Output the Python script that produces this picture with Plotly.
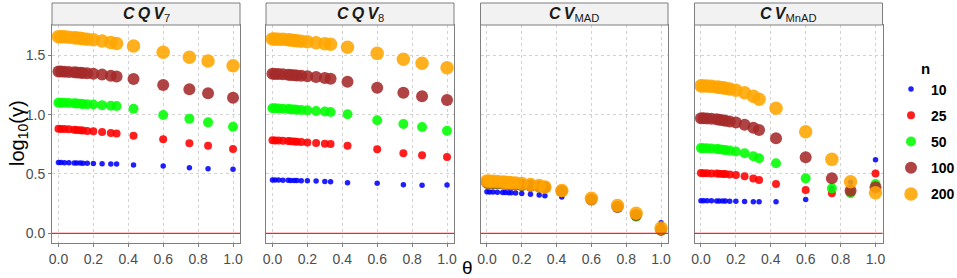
import plotly.graph_objects as go

# ---------------- data ----------------
theta = [0, 0.015, 0.035, 0.06, 0.09, 0.105, 0.125, 0.14, 0.165, 0.2, 0.25, 0.3, 0.333,
         0.43, 0.6, 0.75, 0.857, 1.0]
n_levels = ["10", "25", "50", "100", "200"]
panel_names = ["CQV7", "CQV8", "CVMAD", "CVMnAD"]
panel_titles = ["<b><i>C\u2009Q\u2009V</i></b><sub>7</sub>", "<b><i>C\u2009Q\u2009V</i></b><sub>8</sub>",
                "<b><i>C\u2009V</i></b><sub>MAD</sub>", "<b><i>C\u2009V</i></b><sub>MnAD</sub>"]
y_ticks = [0.0, 0.5, 1.0, 1.5]
x_ticks = [0.0, 0.2, 0.4, 0.6, 0.8, 1.0]

cqv7_n10 = [0.597, 0.596, 0.595, 0.594, 0.593, 0.592, 0.592, 0.591, 0.590, 0.589, 0.587, 0.585, 0.584, 0.575, 0.567, 0.553, 0.544, 0.539]
cqv7_n25 = [0.880, 0.879, 0.878, 0.876, 0.872, 0.870, 0.868, 0.866, 0.863, 0.860, 0.853, 0.846, 0.842, 0.822, 0.792, 0.758, 0.738, 0.710]
cqv7_n50 = [1.101, 1.100, 1.099, 1.098, 1.095, 1.093, 1.092, 1.090, 1.088, 1.085, 1.080, 1.075, 1.072, 1.050, 0.997, 0.966, 0.935, 0.898]
cqv7_n100 = [1.364, 1.363, 1.362, 1.360, 1.357, 1.355, 1.353, 1.351, 1.348, 1.345, 1.337, 1.328, 1.322, 1.300, 1.249, 1.213, 1.180, 1.142]
cqv7_n200 = [1.657, 1.656, 1.655, 1.652, 1.648, 1.646, 1.643, 1.640, 1.635, 1.630, 1.620, 1.608, 1.600, 1.578, 1.525, 1.483, 1.452, 1.412]

cqv8_n10 = [0.450, 0.449, 0.449, 0.448, 0.447, 0.446, 0.445, 0.444, 0.443, 0.442, 0.440, 0.437, 0.435, 0.426, 0.421, 0.410, 0.404, 0.407]
cqv8_n25 = [0.784, 0.783, 0.782, 0.780, 0.777, 0.775, 0.773, 0.771, 0.769, 0.766, 0.760, 0.755, 0.752, 0.738, 0.708, 0.674, 0.657, 0.643]
cqv8_n50 = [1.054, 1.053, 1.052, 1.050, 1.047, 1.045, 1.043, 1.041, 1.039, 1.036, 1.031, 1.026, 1.022, 1.003, 0.952, 0.921, 0.896, 0.864]
cqv8_n100 = [1.344, 1.343, 1.342, 1.340, 1.336, 1.334, 1.332, 1.330, 1.327, 1.323, 1.316, 1.308, 1.302, 1.277, 1.227, 1.185, 1.154, 1.123]
cqv8_n200 = [1.638, 1.637, 1.636, 1.634, 1.630, 1.628, 1.625, 1.622, 1.618, 1.614, 1.606, 1.598, 1.592, 1.567, 1.516, 1.466, 1.432, 1.395]

cvmad_n10 = [0.350, 0.349, 0.348, 0.347, 0.345, 0.344, 0.342, 0.341, 0.339, 0.336, 0.330, 0.322, 0.316, 0.305, 0.265, 0.210, 0.150, 0.090]
cvmad_n25 = [0.410, 0.409, 0.408, 0.406, 0.403, 0.401, 0.399, 0.397, 0.394, 0.390, 0.384, 0.377, 0.372, 0.348, 0.282, 0.218, 0.150, 0.035]
cvmad_n50 = [0.420, 0.419, 0.418, 0.416, 0.413, 0.411, 0.409, 0.407, 0.404, 0.400, 0.393, 0.386, 0.380, 0.352, 0.280, 0.215, 0.140, 0.020]
cvmad_n100 = [0.430, 0.429, 0.428, 0.426, 0.423, 0.421, 0.419, 0.417, 0.414, 0.410, 0.403, 0.395, 0.388, 0.357, 0.285, 0.222, 0.155, 0.030]
cvmad_n200 = [0.440, 0.439, 0.438, 0.436, 0.433, 0.431, 0.429, 0.427, 0.424, 0.420, 0.412, 0.402, 0.390, 0.360, 0.295, 0.235, 0.170, 0.045]

cvmnad_n10 = [0.275, 0.275, 0.274, 0.274, 0.273, 0.273, 0.272, 0.272, 0.271, 0.270, 0.269, 0.267, 0.266, 0.266, 0.286, 0.380, 0.430, 0.620]
cvmnad_n25 = [0.508, 0.507, 0.506, 0.505, 0.503, 0.502, 0.500, 0.499, 0.496, 0.492, 0.480, 0.462, 0.450, 0.415, 0.365, 0.337, 0.360, 0.505]
cvmnad_n50 = [0.718, 0.717, 0.716, 0.714, 0.710, 0.708, 0.705, 0.702, 0.697, 0.690, 0.675, 0.650, 0.632, 0.590, 0.463, 0.379, 0.337, 0.415]
cvmnad_n100 = [0.970, 0.969, 0.968, 0.965, 0.960, 0.957, 0.953, 0.949, 0.943, 0.933, 0.915, 0.890, 0.870, 0.800, 0.640, 0.463, 0.359, 0.388]
cvmnad_n200 = [1.243, 1.242, 1.241, 1.238, 1.233, 1.230, 1.226, 1.222, 1.215, 1.205, 1.185, 1.155, 1.129, 1.053, 0.856, 0.623, 0.435, 0.342]

panel_data = [
    [cqv7_n10, cqv7_n25, cqv7_n50, cqv7_n100, cqv7_n200],
    [cqv8_n10, cqv8_n25, cqv8_n50, cqv8_n100, cqv8_n200],
    [cvmad_n10, cvmad_n25, cvmad_n50, cvmad_n100, cvmad_n200],
    [cvmnad_n10, cvmnad_n25, cvmnad_n50, cvmnad_n100, cvmnad_n200],
]

# ---------------- style ----------------
colors = ["#0000FF", "#FF0000", "#00FF00", "#A52A2A", "#FFA500"]
sizes = [5.5, 8, 10, 12, 13.5]
W, H = 957, 278
FONT = "Liberation Sans, Arial, sans-serif"
panel_px = [(52, 240), (266, 454), (480.5, 668), (694.5, 882.5)]
plot_top, plot_bot = 25, 243.3
strip_top = 3

fig = go.Figure()

for p in range(4):
    ax = "" if p == 0 else str(p + 1)
    for k in range(5):
        fig.add_trace(go.Scatter(
            x=theta, y=panel_data[p][k], mode="markers",
            xaxis="x" + ax, yaxis="y" + ax,
            name="<b>" + n_levels[k] + "</b>", legendgroup=n_levels[k],
            showlegend=(p == 0),
            marker=dict(color=colors[k], size=sizes[k], opacity=0.88, line=dict(width=0)),
        ))

layout = dict(
    width=W, height=H, margin=dict(l=0, r=0, t=0, b=0, autoexpand=False),
    paper_bgcolor="white", plot_bgcolor="white",
    font=dict(family=FONT),
    showlegend=True,
    legend=dict(
        x=891 / W, y=1 - 54 / H, xanchor="left", yanchor="top",
        title=dict(text="<b>n</b>", side="top center", font=dict(size=15, color="black")),
        font=dict(size=14, color="black", family=FONT),
        itemsizing="trace", tracegroupgap=5, bgcolor="rgba(0,0,0,0)",
    ),
)

shapes = []
annotations = []
for p in range(4):
    ax = "" if p == 0 else str(p + 1)
    x0, x1 = panel_px[p]
    layout["xaxis" + ax] = dict(
        domain=[x0 / W, x1 / W], anchor="y" + ax,
        range=[-0.037, 1.04], tickvals=x_ticks, ticktext=["%.1f" % v for v in x_ticks],
        showgrid=True, gridcolor="#D3D3D3", griddash="dot", gridwidth=1,
        showline=True, mirror=True, linecolor="#7F7F7F", linewidth=1,
        ticks="outside", ticklen=3, tickcolor="#7F7F7F",
        tickfont=dict(size=14, color="#4D4D4D"), zeroline=False,
    )
    layout["yaxis" + ax] = dict(
        domain=[1 - plot_bot / H, 1 - plot_top / H], anchor="x" + ax,
        range=[-0.084, 1.755], tickvals=y_ticks, ticktext=["%.1f" % v for v in y_ticks],
        showticklabels=(p == 0), ticks="outside" if p == 0 else "", ticklen=3, tickcolor="#7F7F7F",
        showgrid=True, gridcolor="#D3D3D3", griddash="dot", gridwidth=1,
        showline=True, mirror=True, linecolor="#7F7F7F", linewidth=1,
        tickfont=dict(size=14, color="#4D4D4D"), zeroline=False,
    )
    shapes.append(dict(type="line", xref="x" + ax + " domain", yref="y" + ax,
                       x0=0, x1=1, y0=0, y1=0, line=dict(color="#FF2020", width=1.2)))
    shapes.append(dict(type="rect", xref="paper", yref="paper",
                       x0=x0 / W, x1=x1 / W, y0=1 - plot_top / H, y1=1 - strip_top / H,
                       fillcolor="#F2F2F2", line=dict(color="#7F7F7F", width=1), layer="above"))
    annotations.append(dict(text=panel_titles[p], xref="paper", yref="paper",
                            x=(x0 + x1) / 2 / W, y=1 - 14 / H, showarrow=False,
                            xanchor="center", yanchor="middle",
                            font=dict(size=16, color="#1A1A1A", family=FONT)))

annotations.append(dict(text="log<sub>10</sub>(γ)", xref="paper", yref="paper",
                        x=18 / W, y=1 - 133 / H, showarrow=False, textangle=-90,
                        xanchor="center", yanchor="middle",
                        font=dict(size=20, color="black", family=FONT)))
annotations.append(dict(text="θ", xref="paper", yref="paper",
                        x=467 / W, y=1 - 267 / H, showarrow=False,
                        xanchor="center", yanchor="middle",
                        font=dict(size=19, color="black", family=FONT)))

layout["shapes"] = shapes
layout["annotations"] = annotations
fig.update_layout(**layout)
fig.write_html("out.html", config={"displayModeBar": False},
               post_script="document.body.style.margin='0';document.body.style.overflow='hidden';")
